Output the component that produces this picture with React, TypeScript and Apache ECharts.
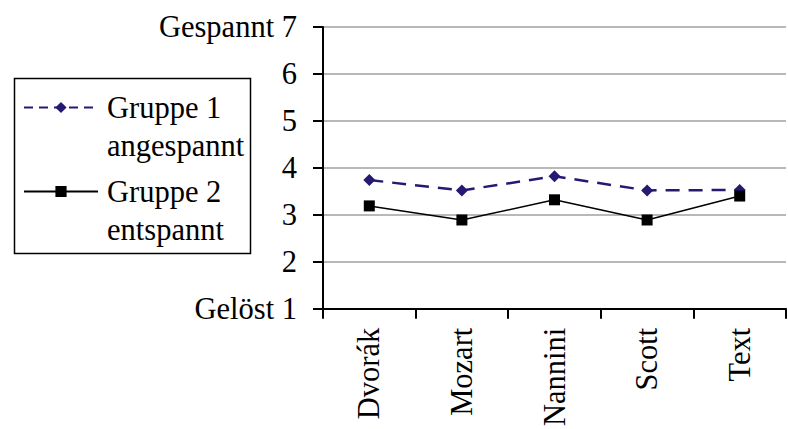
import React, { useEffect, useRef } from "react";
import * as echarts from "echarts";

// Pieces of music (and the spoken text) that were rated
const categories = ["Dvorák", "Mozart", "Nannini", "Scott", "Text"];

// Mean ratings on the 1 (gelöst) … 7 (gespannt) scale
const gruppe1 = [3.74, 3.52, 3.82, 3.52, 3.53];
const gruppe2 = [3.19, 2.89, 3.32, 2.89, 3.4];

const seriesNames = ["Gruppe 1\nangespannt", "Gruppe 2\nentspannt"];

// Tick labels for scale values 1..7
const yTickLabels = ["Gelöst 1", "2", "3", "4", "5", "6", "Gespannt 7"];

const FONT = "'Liberation Serif', 'Times New Roman', serif";
const FS = 30.5;
const NAVY = "#241a72";

export default function App() {
  const ref = useRef<HTMLDivElement>(null);

  useEffect(() => {
    if (!ref.current) return;
    const chart = echarts.init(ref.current, undefined, { renderer: "svg" });

    const legendText = {
      color: "#000",
      fontFamily: FONT,
      fontSize: FS,
      lineHeight: 38,
      padding: [0, 0, 0, 4],
    };
    // a leading blank line puts the first text line level with the legend symbol
    const legendFormatter = (name: string) => "\n" + name;

    chart.setOption({
      animation: false,
      backgroundColor: "#fff",
      grid: { left: 323, right: 2, top: 27, bottom: 116, containLabel: false },
      legend: [
        {
          data: [seriesNames[0]],
          left: 23,
          top: 50.5,
          padding: 0,
          orient: "vertical",
          itemWidth: 74,
          itemHeight: 14,
          itemGap: 0,
          selectedMode: false,
          formatter: legendFormatter,
          textStyle: legendText,
          lineStyle: { type: [9, 6], width: 2 },
        },
        {
          data: [seriesNames[1]],
          left: 23,
          top: 134.5,
          padding: 0,
          orient: "vertical",
          itemWidth: 74,
          itemHeight: 14,
          itemGap: 0,
          selectedMode: false,
          formatter: legendFormatter,
          textStyle: legendText,
        },
      ],
      graphic: [
        {
          type: "rect",
          left: 12,
          top: 76,
          shape: { width: 236, height: 175 },
          style: { fill: "none", stroke: "#000", lineWidth: 1.5 },
          z: 10,
        },
      ],
      xAxis: {
        type: "category",
        data: categories,
        boundaryGap: true,
        axisLine: { lineStyle: { color: "#000", width: 2 } },
        axisTick: { show: true, length: 10, alignWithLabel: false, lineStyle: { color: "#000", width: 2 } },
        axisLabel: {
          rotate: 90,
          margin: 19,
          color: "#000",
          fontFamily: FONT,
          fontSize: FS,
          interval: 0,
        },
        splitLine: { show: false },
      },
      yAxis: {
        type: "value",
        min: 1,
        max: 7,
        interval: 1,
        axisLine: { show: true, lineStyle: { color: "#000", width: 2 } },
        axisTick: { show: true, length: 10, lineStyle: { color: "#000", width: 2 } },
        axisLabel: {
          margin: 26,
          color: "#000",
          fontFamily: FONT,
          fontSize: FS,
          padding: [5, 0, 0, 0],
          formatter: (v: number) => yTickLabels[Math.round(v) - 1] ?? String(v),
        },
        splitLine: { show: true, lineStyle: { color: "#a0a0a0", width: 1.5 } },
      },
      series: [
        {
          name: seriesNames[0],
          type: "line",
          data: gruppe1,
          symbol: "diamond",
          symbolSize: 12,
          itemStyle: { color: NAVY },
          lineStyle: { color: NAVY, width: 2.5, type: [14, 9] },
          z: 3,
        },
        {
          name: seriesNames[1],
          type: "line",
          data: gruppe2,
          symbol: "rect",
          symbolSize: 11,
          itemStyle: { color: "#000" },
          lineStyle: { color: "#000", width: 1.5 },
          z: 4,
        },
      ],
    });

    return () => chart.dispose();
  }, []);

  return (
    <div
      ref={ref}
      style={{ position: "absolute", left: 0, top: 0, width: 788, height: 429 }}
    />
  );
}
